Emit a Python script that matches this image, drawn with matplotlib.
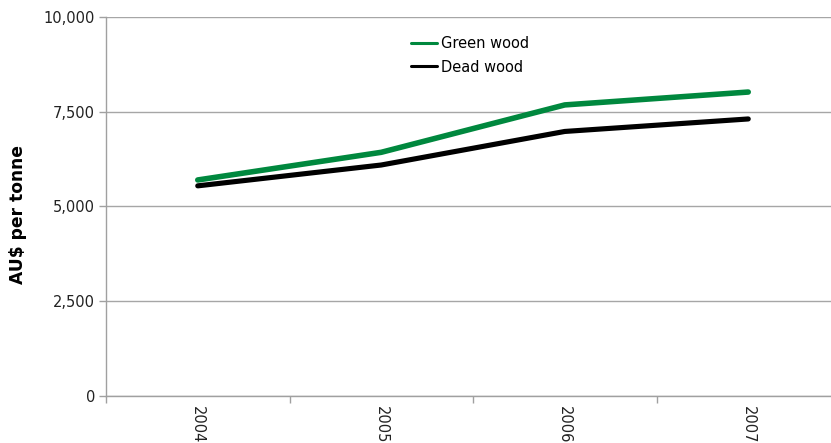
import matplotlib
matplotlib.use('Agg')
import matplotlib.pyplot as plt
import numpy as np

years = ['2004', '2005', '2006', '2007']
green_wood = [5700, 6430, 7680, 8020]
dead_wood = [5545, 6095, 6980, 7310]
yticks = [0, 2500, 5000, 7500, 10000]
ytick_labels = ['0', '2,500', '5,000', '7,500', '10,000']

plt.rcParams['font.family'] = 'DejaVu Sans'

fig = plt.figure(figsize=(8.31, 4.43), dpi=100)
W, H = 831, 443
ax = fig.add_axes([106 / W, (H - 396) / H, (840 - 106) / W, (396 - 17) / H])

x = np.arange(len(years))
ax.plot(x, green_wood, color='#00883e', lw=4.0, label='Green wood', solid_capstyle='round')
ax.plot(x, dead_wood, color='#000000', lw=3.7, label='Dead wood', solid_capstyle='round')

ax.set_xlim(-0.5, len(years) - 0.5)
ax.set_ylim(0, 10000)

ax.set_yticks(yticks)
ax.set_yticklabels(ytick_labels, fontsize=10.5, color='#222222')
ax.set_xticks(x)
ax.set_xticklabels(years, rotation=270, fontsize=10.5, color='#222222', va='top')
ax.set_xticks(np.arange(-0.5, len(years)), minor=True)
ax.tick_params(axis='x', which='major', length=0, pad=7)
ax.tick_params(axis='x', which='minor', length=5, color='#a0a0a0', width=1)
ax.tick_params(axis='y', length=5, color='#a0a0a0', width=1, pad=3)

ax.grid(axis='y', color='#a6a6a6', lw=1)
ax.set_axisbelow(True)
for side in ['top', 'right']:
    ax.spines[side].set_visible(False)
for side in ['left', 'bottom']:
    ax.spines[side].set_color('#a0a0a0')
    ax.spines[side].set_linewidth(1)

fig.text(18 / W, 1 - 214 / H, 'AU$ per tonne', rotation=90, fontsize=12.3,
         fontweight='bold', ha='center', va='center')

leg = ax.legend(loc='upper left', bbox_to_anchor=((405 - 106) / (840 - 106), (396 - 30) / (396 - 17)),
                frameon=False, fontsize=10.5, handlelength=1.8, handletextpad=0.3,
                labelspacing=0.6, borderaxespad=0)
for line in leg.get_lines():
    line.set_linewidth(2.2)

fig.savefig('out.png', dpi=100)
